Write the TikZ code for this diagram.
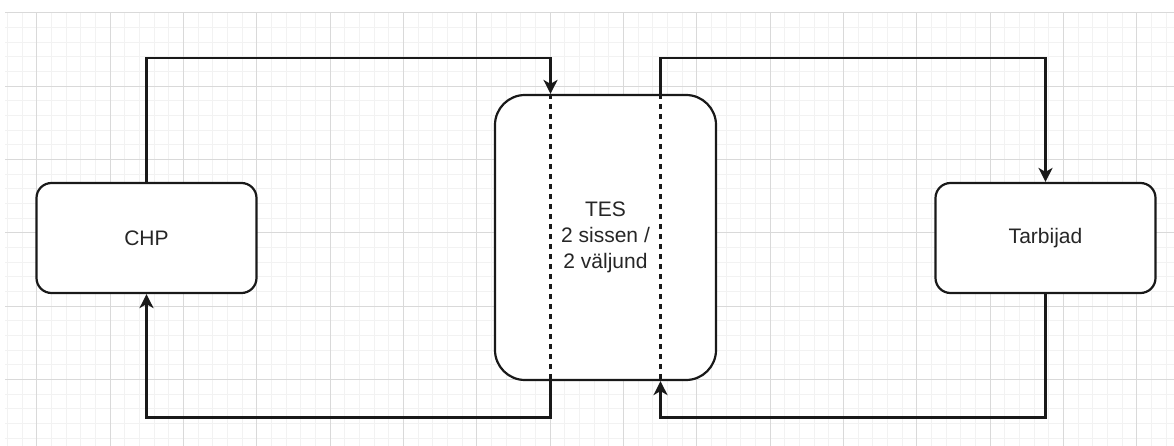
\documentclass[tikz,border=0pt]{standalone}
\usepackage{fontspec}
\setmainfont{Liberation Sans}
\usetikzlibrary{arrows.meta,calc}
\begin{document}
\begin{tikzpicture}[x=1pt,y=-1pt,
  box/.style={draw=black!90,line width=2.2pt,fill=white,rounded corners=15pt,
    minimum width=220pt,minimum height=110pt,inner sep=0pt,
    font=\fontsize{21}{26}\selectfont,align=center,text=black!85},
  flow/.style={line width=2.2pt,draw=black!90,-{Stealth[length=14pt,width=14pt,inset=4pt]}},
  divider/.style={line width=2.2pt,draw=black!90,dash pattern=on 5.5pt off 4.5pt},
  minorgrid/.style={line width=0.8pt,draw=gray!10},
  majorgrid/.style={line width=0.9pt,draw=gray!30}]
\useasboundingbox (0,0) rectangle (1174,446);
\fill[white] (0,0) rectangle (1174,446);
% grid
\foreach \i in {0,...,79} {
  \pgfmathsetmacro\xx{7.333+\i*14.6667}
  \draw[minorgrid] (\xx,12.67) -- (\xx,446);
}
\foreach \j in {0,...,29} {
  \pgfmathsetmacro\yy{12.67+\j*14.6667}
  \draw[minorgrid] (5,\yy) -- (1174,\yy);
}
\foreach \i in {0,...,15} {
  \pgfmathsetmacro\xx{36.667+\i*73.333}
  \draw[majorgrid] (\xx,12.67) -- (\xx,446);
}
\foreach \j in {0,...,5} {
  \pgfmathsetmacro\yy{12.67+\j*73.333}
  \draw[majorgrid] (5,\yy) -- (1174,\yy);
}
% nodes
\node[box] (chp) at (146.5,238) {CHP};
\node[box] (tar) at (1045.5,238) {Tarbijad};
\node[box,rounded corners=30pt,minimum width=221pt,minimum height=285pt] (tes) at (605.5,237.5) {TES\\2 sissen /\\2 väljund};
% coordinates
\coordinate (tinL) at ($(tes.north)+(-55,0)$);
\coordinate (tinR) at ($(tes.north)+(55,0)$);
\coordinate (boutL) at ($(tes.south)+(-55,0)$);
\coordinate (boutR) at ($(tes.south)+(55,0)$);
\coordinate (topy) at (0,58);
\coordinate (boty) at (0,417.5);
% dividers
\draw[divider] (tinL) -- (boutL);
\draw[divider] (tinR) -- (boutR);
% connectors
\draw[flow] (chp.north) |- (tinL |- topy) -- (tinL);
\draw[flow] (tinR) -- (tinR |- topy) -| (tar.north);
\draw[flow] (tar.south) |- (boutR |- boty) -- (boutR);
\draw[flow] (boutL) -- (boutL |- boty) -| (chp.south);
\end{tikzpicture}
\end{document}
